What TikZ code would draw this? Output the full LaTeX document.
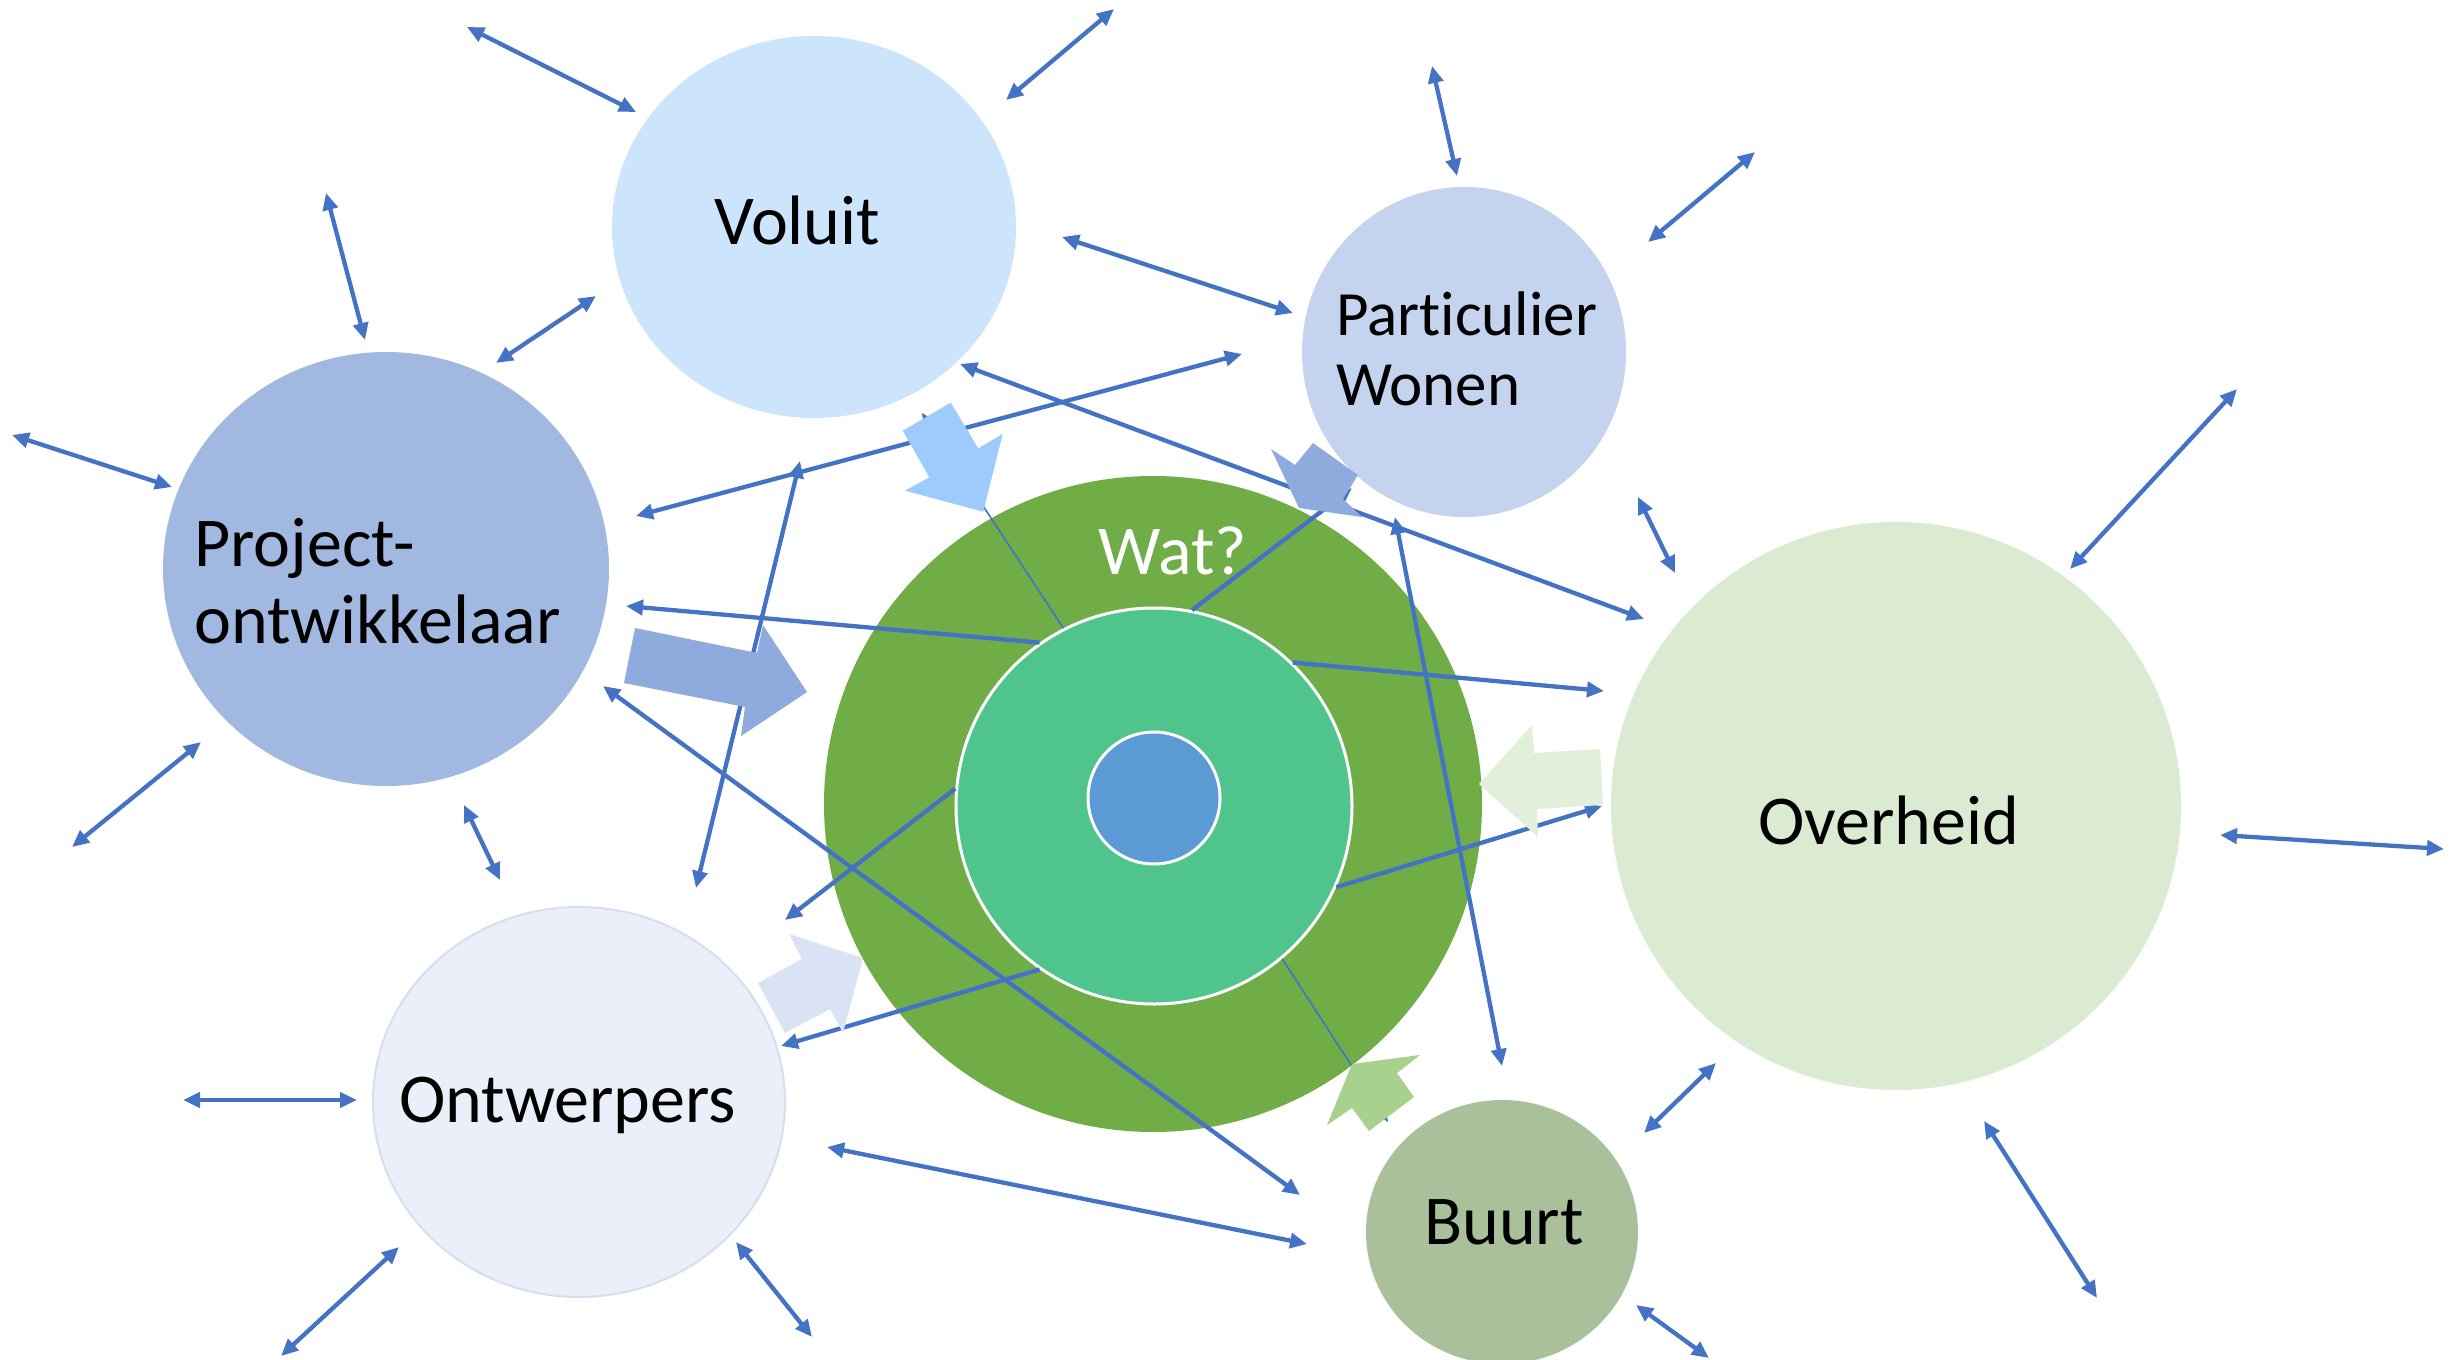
\documentclass[tikz,border=0pt]{standalone}
\usepackage{fontspec}
\setmainfont{Carlito}[Ligatures={NoCommon,NoRare,NoDiscretionary}]
\usetikzlibrary{arrows.meta,shapes.geometric}
\definecolor{lineblue}{HTML}{4472C4}
\definecolor{voluitc}{HTML}{CCE5FC}
\definecolor{partc}{HTML}{C5D4EE}
\definecolor{projc}{HTML}{A1B8E0}
\definecolor{ontwc}{HTML}{EAEFF9}
\definecolor{ontwb}{HTML}{D6DFF0}
\definecolor{overc}{HTML}{DAEBD1}
\definecolor{buurtc}{HTML}{A9C09A}
\definecolor{outerc}{HTML}{70AD47}
\definecolor{innerc}{HTML}{50C48D}
\definecolor{corec}{HTML}{5B9BD5}
\definecolor{barrowa}{HTML}{9DCCFC}
\definecolor{barrowb}{HTML}{8FAADC}
\definecolor{barrowc}{HTML}{E2EFDA}
\definecolor{barrowd}{HTML}{DAE3F3}
\definecolor{barrowe}{HTML}{A9D18E}
\tikzset{
  blob/.style={ellipse, inner sep=0pt, draw=none},
  lbl/.style={anchor=base west, inner sep=0pt, font=\fontsize{70}{77}\selectfont},
  conn/.style={draw=lineblue, line width=4.3pt,
    {Triangle[length=17pt,width=15pt]}-{Triangle[length=17pt,width=15pt]}},
  oneway/.style={draw=lineblue, line width=4.3pt, -{Triangle[length=17pt,width=15pt]}},
  thinway/.style={draw=lineblue, line width=1.6pt, -{Triangle[length=11pt,width=10pt]}}
}
\begin{document}
\begin{tikzpicture}[x=1pt,y=-1pt]
\useasboundingbox (0,0) rectangle (2458,1360);
\fill[white] (0,0) rectangle (2458,1360);

% circles
\node[blob, fill=voluitc, minimum width=404pt, minimum height=382pt] (voluit) at (814,227) {};
\node[blob, fill=partc, minimum width=324pt, minimum height=330pt] (part) at (1464,352) {};
\node[blob, fill=projc, minimum width=446pt, minimum height=434pt] (proj) at (386,569) {};
\node[blob, fill=ontwc, draw=ontwb, line width=2pt, minimum width=412pt, minimum height=390pt] (ontw) at (579,1102) {};
\node[blob, fill=overc, minimum width=570pt, minimum height=568pt] (over) at (1896,806) {};
\node[blob, fill=buurtc, minimum width=272pt, minimum height=264pt] (buurt) at (1502,1232) {};
\node[blob, fill=outerc, minimum width=658pt, minimum height=656pt] (outer) at (1153,804) {};
\node[circle, inner sep=0pt, fill=innerc, draw=white, line width=3pt, minimum size=396pt] (inner) at (1154,806) {};
\node[circle, inner sep=0pt, fill=corec, draw=white, line width=3pt, minimum size=132pt] (core) at (1154,798) {};

% labels
\node[lbl] (tvoluit) at (714,244) {Voluit};
\node[lbl, font=\fontsize{63}{70}\selectfont] (tpart1) at (1336,335) {Part\kern0pt iculier};
\node[lbl, font=\fontsize{63}{70}\selectfont] (tpart2) at (1336,405) {Wonen};
\node[lbl] (tproj1) at (194,566) {Project-};
\node[lbl] (tproj2) at (194,643) {ontwikkelaar};
\node[lbl] (tontw) at (399,1122) {Ontwerpers};
\node[lbl] (tover) at (1758,844) {Overheid};
\node[lbl] (tbuurt) at (1424,1244) {Buurt};
\node[lbl, text=white] (twat) at (1098,574) {Wat?};

% free ends
\coordinate (a1s) at (467,27);   \coordinate (a1e) at (636,112);
\coordinate (a2s) at (1114,9);   \coordinate (a2e) at (1006,100);
\coordinate (a3s) at (1432,66);  \coordinate (a3e) at (1457,176);
\coordinate (a4s) at (1755,152); \coordinate (a4e) at (1648,242);
\coordinate (a5s) at (1062,237); \coordinate (a5e) at (1293,313);
\coordinate (a6s) at (326,193);  \coordinate (a6e) at (365,340);
\coordinate (a7s) at (596,296);  \coordinate (a7e) at (496,363);
\coordinate (a8s) at (12,435);   \coordinate (a8e) at (172,487);
\coordinate (a9s) at (201,742);  \coordinate (a9e) at (72,847);
\coordinate (a10s) at (464,805); \coordinate (a10e) at (500,880);
\coordinate (a11s) at (2237,389); \coordinate (a11e) at (2070,569);
\coordinate (a12s) at (1638,497); \coordinate (a12e) at (1675,573);
\coordinate (a13s) at (2220,835); \coordinate (a13e) at (2444,849);
\coordinate (a14s) at (1984,1121); \coordinate (a14e) at (2097,1298);
\coordinate (a15s) at (1716,1063); \coordinate (a15e) at (1644,1133);
\coordinate (a16s) at (1636,1305); \coordinate (a16e) at (1709,1358);
\coordinate (a17s) at (183,1100); \coordinate (a17e) at (357,1100);
\coordinate (a18s) at (399,1247); \coordinate (a18e) at (281,1356);
\coordinate (a19s) at (736,1242); \coordinate (a19e) at (812,1337);
\coordinate (a20s) at (827,1147); \coordinate (a20e) at (1307,1244);
\coordinate (b1s) at (1242,354); \coordinate (b1e) at (636,516);
\coordinate (b2s) at (960,364);  \coordinate (b2e) at (1644,619);
\coordinate (b3s) at (800,461);  \coordinate (b3e) at (696,888);
\coordinate (b4s) at (1395,517); \coordinate (b4e) at (1502,1066);
\coordinate (b5s) at (603,686);  \coordinate (b5e) at (1300,1195);
\coordinate (c1e) at (626,606);
\coordinate (c2e) at (1604,691);
\coordinate (c3e) at (1352,488);
\coordinate (c4e) at (785,920);
\coordinate (c5e) at (781,1046);
\coordinate (c6e) at (1602,806);
\coordinate (d1e) at (922,413);
\coordinate (d2e) at (1388,1122);

% connectors
\foreach \n in {a1,a2,a3,a4,a5,a6,a7,a8,a9,a10,a11,a12,a13,a14,a15,a16,a17,a18,a19,a20,b1,b2,b3,b4,b5}
  \draw[conn] (\n s) -- (\n e);
\draw[oneway] (inner.125) -- (c1e);
\draw[oneway] (inner.46) -- (c2e);
\draw[oneway] (inner.79) -- (c3e);
\draw[oneway] (inner.175) -- (c4e);
\draw[oneway] (inner.235) -- (c5e);
\draw[oneway] (inner.336.5) -- (c6e);
\draw[thinway] (inner.117) -- (d1e);
\draw[thinway] (inner.310) -- (d2e);

% block arrows
\fill[barrowa] (902.7,430.7) -- (950.7,402.7) -- (978.3,448.3) -- (1002.7,434) -- (983.3,511.7) -- (905,490.7) -- (929.3,477.3) -- cycle;
\fill[barrowb] (1299,508) -- (1271,449) -- (1295,465) -- (1313,443) -- (1358,475) -- (1343,499) -- (1362,517) -- cycle;
\fill[barrowb] (635,628) -- (757,653) -- (763,625) -- (807,692) -- (741,736) -- (745,707) -- (624,683) -- cycle;
\fill[barrowc] (1479,784) -- (1532,725) -- (1534,753) -- (1600,749) -- (1603,805) -- (1537,809) -- (1538,837) -- cycle;
\fill[barrowd] (863,958) -- (789,934) -- (802,959) -- (758,983) -- (785,1033) -- (830,1009) -- (843,1033) -- cycle;
\fill[barrowe] (1352,1064) -- (1420,1055) -- (1397,1073) -- (1414,1097) -- (1369,1131) -- (1352,1108) -- (1327,1125) -- cycle;
\end{tikzpicture}
\end{document}
